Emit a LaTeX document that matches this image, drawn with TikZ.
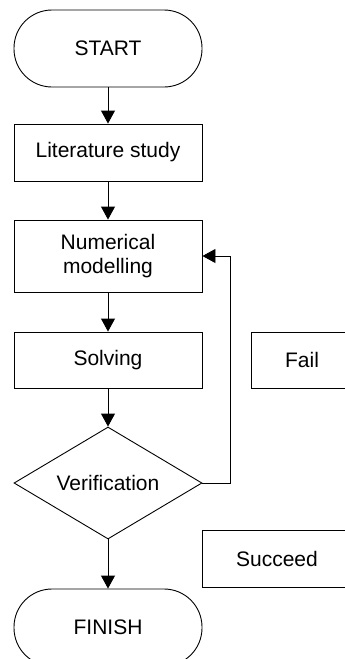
\documentclass[tikz,border=0pt]{standalone}
\usepackage{fontspec}
\setmainfont{Liberation Sans}
\usetikzlibrary{shapes.geometric,arrows.meta}
\begin{document}
\begin{tikzpicture}[x=1pt,y=-1pt,
  every node/.style={font=\fontsize{21}{24}\selectfont, inner sep=0pt, line width=0.9pt},
  process/.style={draw, rectangle, minimum width=188pt, align=center},
  terminal/.style={draw, rectangle, rounded corners=38pt, minimum width=188pt, minimum height=77pt},
  decision/.style={draw, diamond, aspect=1.68, minimum width=188pt, minimum height=112pt},
  flow/.style={line width=0.9pt, -{Triangle[length=13pt,width=14pt]}}]
  \useasboundingbox (0,0) rectangle (345,659);
  \clip (0,0) rectangle (345,659);

  % main sequence
  \node[terminal] (start) at (108,48.5) {START};
  \node[process, minimum height=57pt] (lit) at (108,152.5) {Literature study};
  \node[process, minimum height=72pt] (num) at (108,256) {Numerical\\modelling};
  \node[process, minimum height=56pt] (solve) at (108,360) {Solving};
  \node[decision] (ver) at (108,483) {Verification};
  \node[terminal] (finish) at (108,627.5) {FINISH};

  % side labels
  \node[process, minimum width=102pt, minimum height=56pt] (fail) at (302,360) {Fail};
  \node[process, minimum width=150pt, minimum height=57pt] (succ) at (277,558.5) {Succeed};

  % connectors
  \draw[flow] (start) -- (lit);
  \draw[flow] (lit) -- (num);
  \draw[flow] (num) -- (solve);
  \draw[flow] (solve) -- (ver);
  \draw[flow] (ver) -- (finish);
  \coordinate (loop) at (230,483);
  \draw[flow] (ver.east) -- (loop) |- (num.east);
\end{tikzpicture}
\end{document}
